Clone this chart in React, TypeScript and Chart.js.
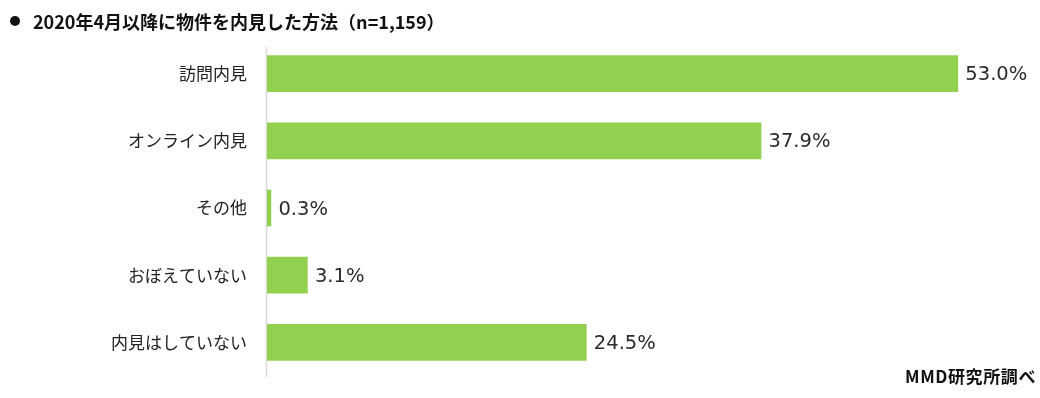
import React, { useEffect, useRef } from "react";
import { Chart, registerables } from "chart.js";

Chart.register(...registerables);

const categories = ["訪問内見", "オンライン内見", "その他", "おぼえていない", "内見はしていない"];
const values = [53.0, 37.9, 0.3, 3.1, 24.5];
const titleText = "2020年4月以降に物件を内見した方法（n=1,159）";
const sourceText = "MMD研究所調べ";

const JP = "'Noto Sans CJK JP', 'Noto Sans', sans-serif";

export default function App() {
  const ref = useRef<HTMLCanvasElement | null>(null);

  useEffect(() => {
    document.body.style.margin = "0";
    const valueLabels = {
      id: "valueLabels",
      afterDatasetsDraw(chart: any) {
        const ctx = chart.ctx;
        const meta = chart.getDatasetMeta(0);
        ctx.save();
        ctx.font = "19.5px 'DejaVu Sans', sans-serif";
        ctx.fillStyle = "#2b2b2b";
        ctx.textBaseline = "middle";
        ctx.textAlign = "left";
        meta.data.forEach((bar: any, i: number) => {
          ctx.fillText(values[i].toFixed(1) + "%", bar.x + 7.5, bar.y + 1.5);
        });
        ctx.restore();
      },
    };
    const axisLine = {
      id: "axisLine",
      beforeDatasetsDraw(chart: any) {
        const { ctx, chartArea } = chart;
        ctx.save();
        ctx.strokeStyle = "#d9d9d9";
        ctx.lineWidth = 1.5;
        ctx.beginPath();
        ctx.moveTo(chartArea.left - 0.5, chartArea.top + 7);
        ctx.lineTo(chartArea.left - 0.5, chartArea.bottom + 1);
        ctx.stroke();
        ctx.restore();
      },
    };
    const chart = new Chart(ref.current as HTMLCanvasElement, {
      type: "bar",
      data: {
        labels: categories,
        datasets: [
          {
            data: values,
            backgroundColor: "#92D050",
            borderWidth: 0,
            barThickness: 36,
          },
        ],
      },
      options: {
        indexAxis: "y",
        animation: false,
        responsive: false,
        maintainAspectRatio: false,
        layout: { padding: { top: 40, bottom: 22, left: 0, right: 17 } },
        plugins: {
          legend: { display: false },
          tooltip: { enabled: false },
          title: { display: false },
        },
        scales: {
          x: {
            min: 0,
            max: 58,
            display: false,
            grid: { display: false },
          },
          y: {
            grid: { display: false, drawTicks: true, tickLength: 20 },
            border: { display: false },
            ticks: {
              padding: 0,
              color: "#222222",
              font: { family: JP, size: 17 },
            },
            afterFit(scale: any) {
              scale.width = 267;
            },
          },
        },
      },
      plugins: [axisLine, valueLabels],
    });
    return () => chart.destroy();
  }, []);

  return (
    <div style={{ position: "fixed", left: 0, top: 0, width: 1040, height: 398, background: "#fff" }}>
      <canvas ref={ref} width={1040} height={398} style={{ position: "absolute", left: 0, top: 0 }} />
      <div
        style={{
          position: "absolute",
          left: 10,
          top: 16,
          width: 10,
          height: 10,
          borderRadius: "50%",
          background: "#111",
        }}
      />
      <div
        style={{
          position: "absolute",
          left: 33,
          top: 8,
          fontFamily: JP,
          fontWeight: "bold",
          fontSize: 18,
          color: "#111",
          whiteSpace: "nowrap",
          lineHeight: "26px",
        }}
      >
        {titleText}
      </div>
      <div
        style={{
          position: "absolute",
          right: 4,
          top: 364,
          fontFamily: JP,
          fontWeight: "bold",
          fontSize: 17,
          letterSpacing: 0.6,
          color: "#111",
          whiteSpace: "nowrap",
          lineHeight: "24px",
        }}
      >
        {sourceText}
      </div>
    </div>
  );
}
